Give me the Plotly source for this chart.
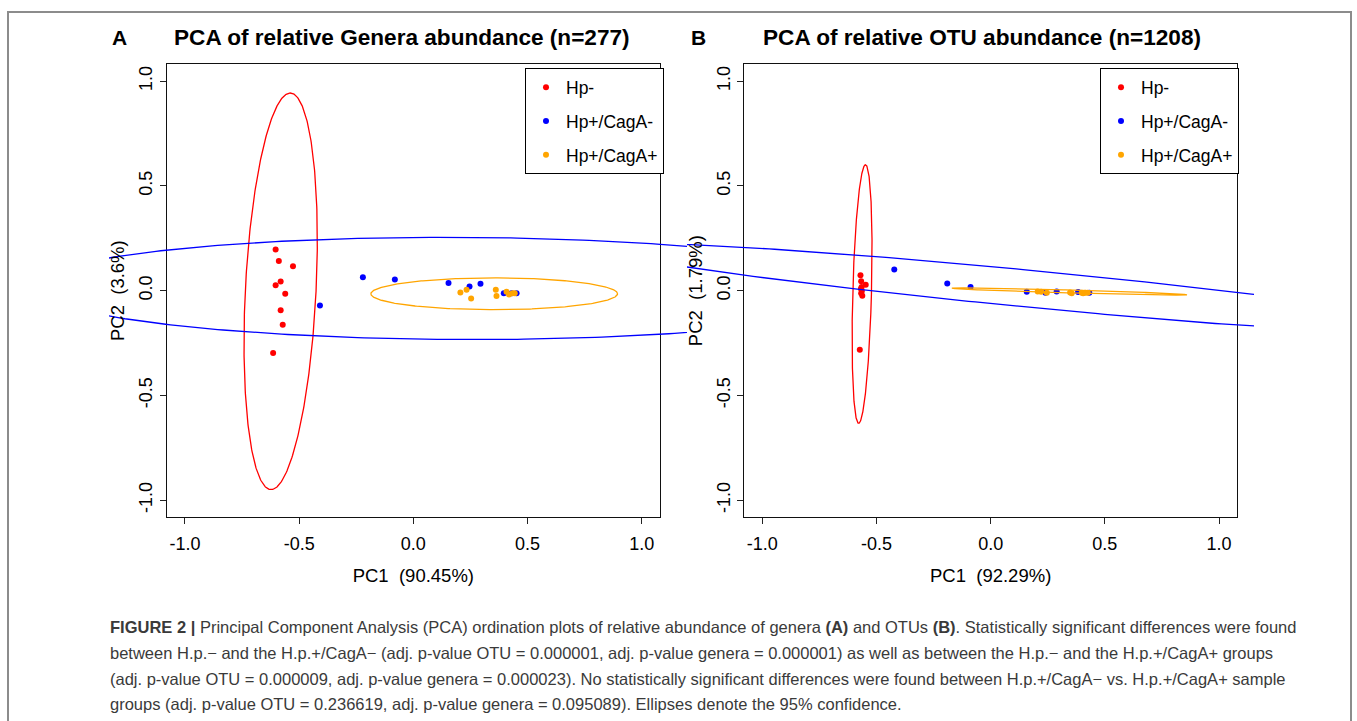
import numpy as np
import plotly.graph_objects as go

W, H = 1357, 721

# ---------------- data ----------------
groups = ["Hp-", "Hp+/CagA-", "Hp+/CagA+"]
colors = ["#FF0000", "#0000FF", "#FFA500"]

# Panel A : genera
a_hpneg_x = [-0.603, -0.589, -0.527, -0.581, -0.603, -0.561, -0.581, -0.572, -0.614]
a_hpneg_y = [0.196, 0.141, 0.117, 0.044, 0.026, -0.015, -0.093, -0.163, -0.298]
a_cagneg_x = [-0.221, -0.081, -0.409, 0.154, 0.246, 0.294, 0.396, 0.452, 0.430]
a_cagneg_y = [0.064, 0.053, -0.071, 0.036, 0.020, 0.033, -0.012, -0.012, -0.012]
a_cagpos_x = [0.206, 0.233, 0.253, 0.361, 0.364, 0.408, 0.419, 0.434, 0.444]
a_cagpos_y = [-0.009, 0.004, -0.037, 0.004, -0.026, -0.005, -0.018, -0.012, -0.012]

# Panel B : OTU
b_hpneg_x = [-0.570, -0.567, -0.547, -0.568, -0.564, -0.567, -0.562, -0.573, -0.565]
b_hpneg_y = [0.074, 0.045, 0.028, 0.009, -0.002, -0.013, -0.024, -0.282, 0.017]
b_cagneg_x = [-0.422, -0.190, -0.088, 0.158, 0.240, 0.289, 0.383, 0.432]
b_cagneg_y = [0.101, 0.034, 0.017, -0.005, -0.010, -0.004, -0.007, -0.010]
b_cagpos_x = [0.206, 0.221, 0.246, 0.348, 0.355, 0.399, 0.414, 0.425, 0.405]
b_cagpos_y = [-0.004, -0.005, -0.010, -0.009, -0.012, -0.010, -0.010, -0.010, -0.012]

# 95% confidence ellipses: centre (cx, cy) and shape terms (a, c, d, b):
#   x = cx + a*cos t + c*sin t ;  y = cy + d*cos t + b*sin t
a_ell_cx = [-0.581, 0.199, 0.354]
a_ell_cy = [-0.003, 0.0105, -0.015]
a_ell_a = [0.155, 1.864, 0.540]
a_ell_c = [0.042, 0.0, 0.0]
a_ell_d = [0.0, -0.0084, 0.0]
a_ell_b = [0.946, 0.2437, 0.076]

b_ell_cx = [-0.563, 0.179, 0.345]
b_ell_cy = [-0.016, 0.008, -0.004]
b_ell_a = [0.041, 1.90, 0.515]
b_ell_c = [0.015, 0.0, 0.0]
b_ell_d = [0.0, -0.1995, -0.0157]
b_ell_b = [0.617, 0.0886, 0.007]

tick_vals = [-1.0, -0.5, 0.0, 0.5, 1.0]
tick_text = ["-1.0", "-0.5", "0.0", "0.5", "1.0"]
axis_range = [-1.08, 1.08]

titles = ["PCA of relative Genera abundance (n=277)", "PCA of relative OTU abundance (n=1208)"]
panel_letters = ["A", "B"]
x_titles = ["PC1\u00a0\u00a0(90.45%)", "PC1\u00a0\u00a0(92.29%)"]
y_titles = ["PC2\u00a0\u00a0(3.6%)", "PC2\u00a0\u00a0(1.79%)"]

caption_lines = [
    "<b>FIGURE 2 |</b> Principal Component Analysis (PCA) ordination plots of relative abundance of genera <b>(A)</b> and OTUs <b>(B)</b>. Statistically significant differences were found",
    "between H.p.\u2212 and the H.p.+/CagA\u2212 (adj. p-value OTU = 0.000001, adj. p-value genera = 0.000001) as well as between the H.p.\u2212 and the H.p.+/CagA+ groups",
    "(adj. p-value OTU = 0.000009, adj. p-value genera = 0.000023). No statistically significant differences were found between H.p.+/CagA\u2212 vs. H.p.+/CagA+ sample",
    "groups (adj. p-value OTU = 0.236619, adj. p-value genera = 0.095089). Ellipses denote the 95% confidence.",
]

# ---------------- layout geometry (pixels) ----------------
FONT = "Liberation Sans, Arial, Helvetica, sans-serif"
box_top, box_bot = 64.3, 517.0
boxes = [(166.7, 660.0), (744.0, 1237.3)]
clips = [(109.0, 687.0), (687.0, 1254.0)]


def xdom(l, r):
    return [l / W, r / W]


def ydom(t, b):
    return [1 - b / H, 1 - t / H]


def clip_range(box, clip):
    s = (axis_range[1] - axis_range[0]) / (box[1] - box[0])
    return [axis_range[0] + (clip[0] - box[0]) * s, axis_range[0] + (clip[1] - box[0]) * s]


fig = go.Figure()

panel_pts = [
    [(a_hpneg_x, a_hpneg_y), (a_cagneg_x, a_cagneg_y), (a_cagpos_x, a_cagpos_y)],
    [(b_hpneg_x, b_hpneg_y), (b_cagneg_x, b_cagneg_y), (b_cagpos_x, b_cagpos_y)],
]
panel_ell = [
    (a_ell_cx, a_ell_cy, a_ell_a, a_ell_c, a_ell_d, a_ell_b),
    (b_ell_cx, b_ell_cy, b_ell_a, b_ell_c, b_ell_d, b_ell_b),
]

t = np.linspace(0, 2 * np.pi, 400)

for p in range(2):
    xa = "x" if p == 0 else "x2"
    ya = "y" if p == 0 else "y2"
    leg = "legend" if p == 0 else "legend2"
    for g in range(3):
        xs, ys = panel_pts[p][g]
        fig.add_trace(go.Scatter(
            x=xs, y=ys, mode="markers", name=groups[g],
            marker=dict(color=colors[g], size=6),
            xaxis=xa, yaxis=ya, legend=leg, legendgroup=f"{p}{g}",
            showlegend=True, hoverinfo="skip"))

for p in range(2):
    xa = "x3" if p == 0 else "x4"
    ya = "y3" if p == 0 else "y4"
    cx, cy, aa, cc, dd, bb = panel_ell[p]
    for g in range(3):
        ex = cx[g] + aa[g] * np.cos(t) + cc[g] * np.sin(t)
        ey = cy[g] + dd[g] * np.cos(t) + bb[g] * np.sin(t)
        fig.add_trace(go.Scatter(
            x=ex, y=ey, mode="lines", line=dict(color=colors[g], width=1.3),
            xaxis=xa, yaxis=ya, showlegend=False, hoverinfo="skip"))

main_axis = dict(
    range=axis_range, tickvals=tick_vals, ticktext=tick_text,
    ticks="outside", ticklen=6, tickwidth=1, tickcolor="#222",
    showline=True, mirror=True, linecolor="#111", linewidth=1.2,
    showgrid=False, zeroline=False,
    tickfont=dict(family=FONT, size=18, color="black"),
)
hidden = dict(visible=False, showgrid=False, zeroline=False, fixedrange=True)

layout = dict(
    width=W, height=H, autosize=False,
    margin=dict(l=0, r=0, t=0, b=0),
    paper_bgcolor="white", plot_bgcolor="rgba(0,0,0,0)",
    font=dict(family=FONT, color="black"),
    showlegend=True,
)
for p in range(2):
    sx = "" if p == 0 else "2"
    layout["xaxis" + sx] = dict(main_axis, domain=xdom(*boxes[p]), anchor="y" + sx,
                               ticklabelstandoff=4,
                               title=dict(text=x_titles[p], font=dict(family=FONT, size=18.5), standoff=16))
    layout["yaxis" + sx] = dict(main_axis, domain=ydom(box_top, box_bot), anchor="x" + sx, tickangle=-90,
                               title=dict(text=y_titles[p], font=dict(family=FONT, size=18.5), standoff=6))
    ox = "3" if p == 0 else "4"
    layout["xaxis" + ox] = dict(hidden, domain=xdom(*clips[p]), range=clip_range(boxes[p], clips[p]), anchor="y" + ox)
    layout["yaxis" + ox] = dict(hidden, domain=ydom(box_top, box_bot), range=axis_range, anchor="x" + ox)

legend_left = [525.0, 1100.0]
for p in range(2):
    key = "legend" if p == 0 else "legend2"
    layout[key] = dict(
        x=legend_left[p] / W, y=1 - 68.3 / H, xanchor="left", yanchor="top",
        xref="paper", yref="paper",
        bgcolor="white", bordercolor="black", borderwidth=1,
        font=dict(family=FONT, size=17.5, color="black"),
        traceorder="grouped", tracegroupgap=8, itemclick=False,
    )

fig.update_layout(**layout)

# titles
title_x = [402.0, 981.5]
letter_x = [119.5, 698.0]
for p in range(2):
    fig.add_annotation(x=letter_x[p] / W, y=1 - 38 / H, xref="paper", yref="paper",
                       text=f"<b>{panel_letters[p]}</b>", showarrow=False,
                       font=dict(family=FONT, size=21, color="black"), xanchor="center", yanchor="middle")
    fig.add_annotation(x=title_x[p] / W, y=1 - 38 / H, xref="paper", yref="paper",
                       text=f"<b>{titles[p]}</b>", showarrow=False,
                       font=dict(family=FONT, size=22.6, color="black"), xanchor="center", yanchor="middle")

# caption
cap_y = [627, 653, 679, 704]
for i, line in enumerate(caption_lines):
    fig.add_annotation(x=108 / W, y=1 - cap_y[i] / H, xref="paper", yref="paper",
                       text=line, showarrow=False, align="left",
                       font=dict(family=FONT, size=16.5, color="#3a3a3a"),
                       xanchor="left", yanchor="middle")

# outer frame of the figure panel
fig.add_shape(type="rect", xref="paper", yref="paper",
              x0=8 / W, x1=1351 / W, y0=1 - 760 / H, y1=1 - 12 / H,
              line=dict(color="#8c8c8c", width=2), fillcolor="rgba(0,0,0,0)", layer="below")

fig.write_html("out.html")
